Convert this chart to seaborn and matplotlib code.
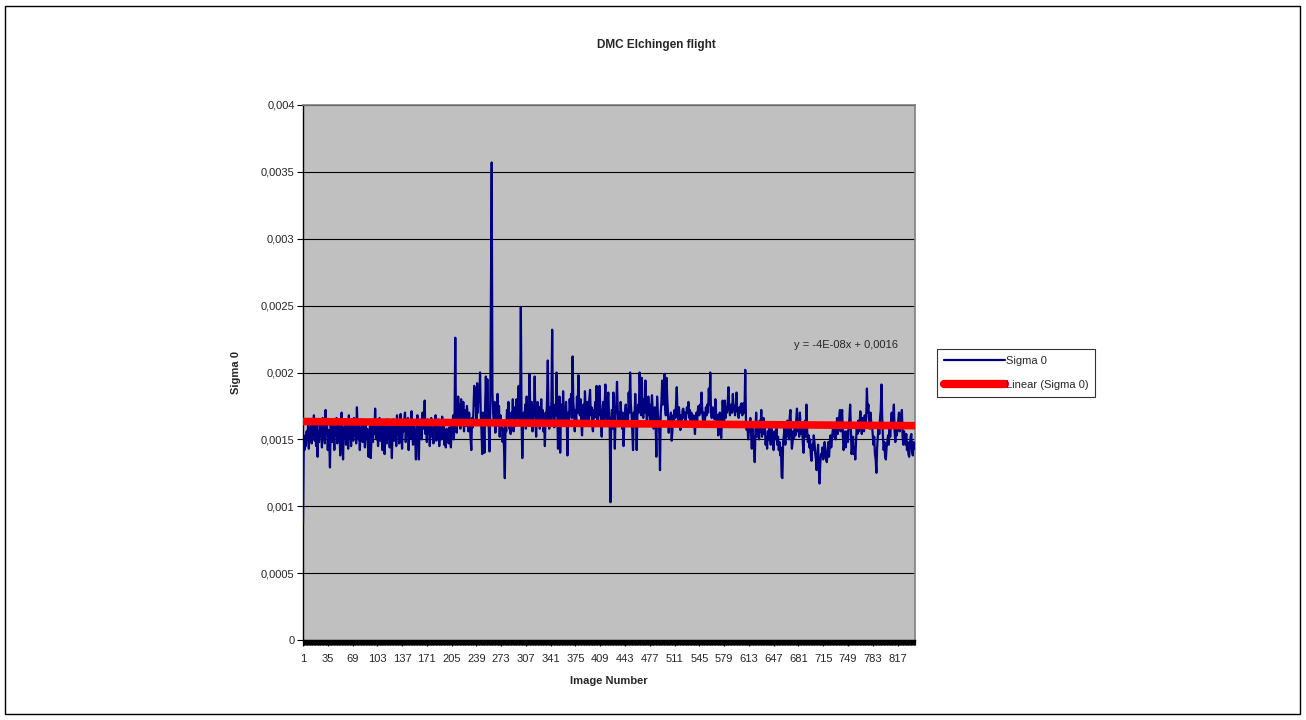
import numpy as np
import pandas as pd
import matplotlib
matplotlib.use("Agg")
import matplotlib.pyplot as plt
import seaborn as sns
from matplotlib.patches import Rectangle
from matplotlib.lines import Line2D
from matplotlib.ticker import MultipleLocator

# Sigma 0 per image, in units of 1e-6
sigma0_micro = [
    870, 1480, 1420, 1530, 1450, 1560, 1500, 1610, 1430, 1580, 1520, 1650, 1470, 1600, 1540, 1680, 1490, 1590, 1450, 1620,
    1370, 1560, 1480, 1640, 1520, 1590, 1440, 1660, 1500, 1580, 1470, 1720, 1550, 1610, 1420, 1570, 1500, 1290, 1620, 1530,
    1480, 1650, 1560, 1420, 1600, 1530, 1660, 1470, 1580, 1510, 1630, 1380, 1560, 1700, 1480, 1350, 1590, 1520, 1640, 1460,
    1570, 1620, 1430, 1680, 1510, 1590, 1450, 1630, 1550, 1490, 1660, 1530, 1600, 1470, 1740, 1560, 1500, 1640, 1420, 1580,
    1530, 1650, 1480, 1600, 1560, 1440, 1620, 1510, 1580, 1460, 1370, 1550, 1600, 1360, 1520, 1640, 1480, 1590, 1540, 1730,
    1580, 1500, 1620, 1450, 1560, 1660, 1490, 1600, 1530, 1420, 1570, 1640, 1390, 1550, 1610, 1470, 1650, 1520, 1580, 1440,
    1600, 1530, 1360, 1580, 1650, 1490, 1560, 1620, 1450, 1680, 1540, 1600, 1470, 1570, 1690, 1520, 1430, 1610, 1560, 1650,
    1700, 1480, 1590, 1530, 1660, 1420, 1580, 1640, 1510, 1710, 1550, 1460, 1620, 1570, 1500, 1350, 1600, 1680, 1540, 1350,
    1610, 1560, 1650, 1500, 1700, 1580, 1620, 1790, 1540, 1600, 1480, 1650, 1560, 1620, 1450, 1590, 1660, 1520, 1580, 1470,
    1630, 1560, 1680, 1490, 1600, 1540, 1650, 1450, 1580, 1620, 1500, 1670, 1550, 1610, 1460, 1540, 1440, 1580, 1500, 1550,
    1470, 1590, 1520, 1440, 1620, 1560, 1680, 1500, 1640, 2260, 1620, 1550, 1700, 1820, 1640, 1760, 1580, 1800, 1690, 1610,
    1780, 1560, 1720, 1640, 1600, 1750, 1680, 1560, 1700, 1620, 1510, 1420, 1660, 1590, 1720, 1900, 1750, 1880, 1640, 1920,
    1700, 1860, 1780, 2000, 1680, 1560, 1390, 1700, 1620, 1400, 1750, 1970, 1660, 1950, 1720, 1580, 1410, 1700, 2700, 3570,
    1850, 1700, 1620, 1780, 1550, 1680, 1720, 1840, 1600, 1750, 1520, 1680, 1590, 1640, 1480, 1580, 1420, 1210, 1600, 1560,
    1720, 1650, 1780, 1580, 1640, 1540, 1700, 1620, 1800, 1560, 1680, 1740, 1600, 1800, 1660, 1720, 1900, 1620, 1700, 2490,
    1640, 1360, 1580, 1700, 1640, 1760, 1580, 1820, 1660, 1740, 1600, 1990, 1700, 1640, 1780, 1560, 1720, 1680, 1970, 1650,
    1520, 1700, 1780, 1620, 1740, 1580, 1680, 1800, 1640, 1720, 1560, 1660, 1450, 1700, 1620, 1800, 2090, 1680, 1580, 1740,
    1650, 1780, 2320, 1700, 1620, 1590, 1760, 1680, 2000, 1720, 1430, 1680, 1820, 1400, 1700, 1760, 1620, 1860, 1680, 1740,
    1600, 1780, 1650, 1380, 1700, 1620, 1800, 1720, 1840, 1660, 2120, 1780, 1700, 1560, 1720, 1640, 1820, 1700, 1980, 1750,
    1680, 1800, 1620, 1530, 1700, 1760, 1650, 1860, 1720, 1640, 1780, 1700, 1620, 1800, 1870, 1680, 1740, 1600, 1560, 1720,
    1660, 1780, 1700, 1900, 1640, 1760, 1680, 1900, 1740, 1620, 1520, 1700, 1780, 1640, 1740, 1910, 1700, 1620, 1760, 1850,
    1680, 1600, 1030, 1640, 1720, 1580, 1850, 1700, 1430, 1680, 1760, 1930, 1720, 1640, 1700, 1600, 1780, 1660, 1580, 1700,
    1450, 1620, 1700, 1760, 1640, 1720, 1600, 1850, 1700, 2000, 1760, 1680, 1560, 1420, 1700, 1640, 1840, 1700, 1420, 1680,
    1760, 1700, 2000, 1820, 1680, 1960, 1740, 1660, 1800, 1700, 1940, 1760, 1600, 1700, 1820, 1680, 1760, 1640, 1720, 1830,
    1700, 1580, 1660, 1740, 1620, 1370, 1820, 1700, 1640, 1560, 1270, 1700, 1780, 1940, 1760, 1820, 1990, 1740, 1680, 1960,
    1800, 1700, 1550, 1660, 1620, 1700, 1490, 1560, 1680, 1630, 1720, 1660, 1760, 1890, 1700, 1620, 1740, 1660, 1570, 1680,
    1640, 1720, 1730, 1660, 1700, 1620, 1680, 1740, 1700, 1780, 1660, 1720, 1640, 1700, 1650, 1600, 1680, 1620, 1540, 1660,
    1700, 1640, 1720, 1750, 1680, 1760, 1700, 1850, 1720, 1640, 1700, 1600, 1670, 1740, 1680, 1760, 1700, 1880, 1760, 2000,
    1700, 1660, 1740, 1680, 1720, 1650, 1800, 1700, 1620, 1680, 1530, 1640, 1700, 1580, 1510, 1660, 1790, 1700, 1640, 1790,
    1660, 1740, 1700, 1780, 1890, 1740, 1680, 1720, 1760, 1700, 1840, 1720, 1750, 1680, 1740, 1850, 1720, 1700, 1660, 1740,
    1700, 1760, 1770, 1680, 1720, 1770, 1700, 2020, 1640, 1570, 1620, 1500, 1560, 1600, 1660, 1540, 1430, 1580, 1500, 1460,
    1330, 1560, 1700, 1520, 1620, 1580, 1500, 1640, 1560, 1720, 1520, 1600, 1660, 1540, 1580, 1460, 1520, 1430, 1560, 1500,
    1620, 1520, 1460, 1580, 1540, 1480, 1420, 1560, 1500, 1540, 1580, 1460, 1520, 1420, 1480, 1380, 1440, 1220, 1210, 1480,
    1530, 1600, 1460, 1560, 1520, 1640, 1580, 1500, 1660, 1720, 1560, 1430, 1480, 1560, 1510, 1580, 1530, 1640, 1730, 1560,
    1620, 1520, 1700, 1580, 1540, 1610, 1480, 1400, 1560, 1640, 1520, 1760, 1560, 1480, 1530, 1440, 1500, 1380, 1340, 1460,
    1420, 1530, 1480, 1400, 1350, 1270, 1390, 1460, 1280, 1170, 1320, 1390, 1370, 1440, 1350, 1420, 1480, 1390, 1350, 1330,
    1420, 1480, 1370, 1460, 1530, 1440, 1500, 1560, 1610, 1520, 1580, 1500, 1560, 1660, 1540, 1600, 1670, 1720, 1560, 1640,
    1720, 1520, 1420, 1480, 1560, 1440, 1520, 1560, 1480, 1600, 1660, 1760, 1560, 1390, 1460, 1520, 1390, 1440, 1350, 1480,
    1600, 1540, 1640, 1560, 1620, 1710, 1600, 1540, 1660, 1610, 1560, 1680, 1600, 1660, 1880, 1700, 1760, 1640, 1580, 1700,
    1620, 1610, 1540, 1460, 1520, 1390, 1350, 1250, 1440, 1520, 1610, 1540, 1660, 1720, 1910, 1660, 1520, 1420, 1480, 1370,
    1350, 1440, 1480, 1530, 1460, 1580, 1520, 1620, 1700, 1600, 1660, 1760, 1560, 1480, 1600, 1530, 1580, 1640, 1700, 1560,
    1620, 1660, 1720, 1520, 1460, 1560, 1500, 1460, 1540, 1420, 1480, 1390, 1370, 1460, 1520, 1540, 1410, 1380, 1480, 1430,
]

x_tick_labels = [1, 35, 69, 103, 137, 171, 205, 239, 273, 307, 341, 375, 409, 443,
                 477, 511, 545, 579, 613, 647, 681, 715, 749, 783, 817]
y_ticks = [0, 0.0005, 0.001, 0.0015, 0.002, 0.0025, 0.003, 0.0035, 0.004]
y_tick_labels = ["0", "0,0005", "0,001", "0,0015", "0,002", "0,0025", "0,003", "0,0035", "0,004"]

title = "DMC Elchingen flight"
x_label = "Image Number"
y_label = "Sigma 0"
series_name = "Sigma 0"
trend_name = "Linear (Sigma 0)"
equation = "y = -4E-08x + 0,0016"

sns.set_theme(style="white")
plt.rcParams['font.family'] = ['Liberation Sans', 'DejaVu Sans']

W, H = 1306, 720
fig = plt.figure(figsize=(W / 100, H / 100), dpi=100)
fig.patch.set_facecolor("white")
fig.patches.append(Rectangle((5 / W, 6 / H), 1295 / W, 708 / H, transform=fig.transFigure,
                             fill=False, edgecolor="black", linewidth=1.0))

ax = fig.add_axes([303 / W, 1 - 640 / H, (915 - 303) / W, (640 - 105) / H])
ax.set_facecolor("#C0C0C0")

df = pd.DataFrame({"image": np.arange(1, len(sigma0_micro) + 1),
                   "sigma0": np.array(sigma0_micro) * 1e-6})
coef = np.polyfit(df["image"], df["sigma0"], 1)
df["trend"] = np.polyval(coef, df["image"])

sns.lineplot(data=df, x="image", y="sigma0", color="#000080", linewidth=1.6, ax=ax,
             legend=False, zorder=3)
sns.lineplot(data=df, x="image", y="trend", color="#FF0000", linewidth=5.5, ax=ax,
             legend=False, zorder=4)

ax.set_xlim(1, 841)
ax.set_ylim(0, 0.004)
ax.set_yticks(y_ticks)
ax.set_yticklabels(y_tick_labels)
ax.set_xticks(x_tick_labels)
ax.set_xticklabels([str(v) for v in x_tick_labels])
ax.xaxis.set_minor_locator(MultipleLocator(1))
ax.yaxis.grid(True, color="black", linewidth=0.8)
ax.xaxis.grid(False)
ax.set_axisbelow(True)

for side in ["top", "right"]:
    ax.spines[side].set_color("#808080")
    ax.spines[side].set_linewidth(1.2)
for side in ["left", "bottom"]:
    ax.spines[side].set_color("black")
    ax.spines[side].set_linewidth(1.0)

ax.tick_params(axis="y", which="major", direction="out", length=4, width=0.8,
               color="black", labelsize=8, pad=2, left=True)
ax.tick_params(axis="x", which="major", direction="out", length=4, width=0.9,
               color="black", labelsize=8, pad=6, bottom=True)
ax.tick_params(axis="x", which="minor", direction="out", length=3.5, width=0.9,
               color="black", bottom=True)

ax.set_xlabel(x_label, fontsize=8, fontweight="bold", labelpad=9)
ax.set_ylabel(y_label, fontsize=8, fontweight="bold", labelpad=14)

fig.text(656 / W, 1 - 45 / H, title, ha="center", va="center", fontsize=8.5, fontweight="bold")
fig.text(846 / W, 1 - 345 / H, equation, ha="center", va="center", fontsize=8)

handles = [Line2D([], [], color="#000080", linewidth=1.6),
           Line2D([], [], color="#FF0000", linewidth=6, solid_capstyle="round")]
leg = fig.legend(handles, [series_name, trend_name], loc="upper left",
                 bbox_to_anchor=(937 / W, 1 - 349 / H), frameon=True, fancybox=False,
                 edgecolor="black", facecolor="white", fontsize=8, handlelength=5.5,
                 handletextpad=0.1, borderpad=0.6, labelspacing=1.3, borderaxespad=0)
leg.get_frame().set_linewidth(0.8)

fig.savefig("out.png", dpi=100)
